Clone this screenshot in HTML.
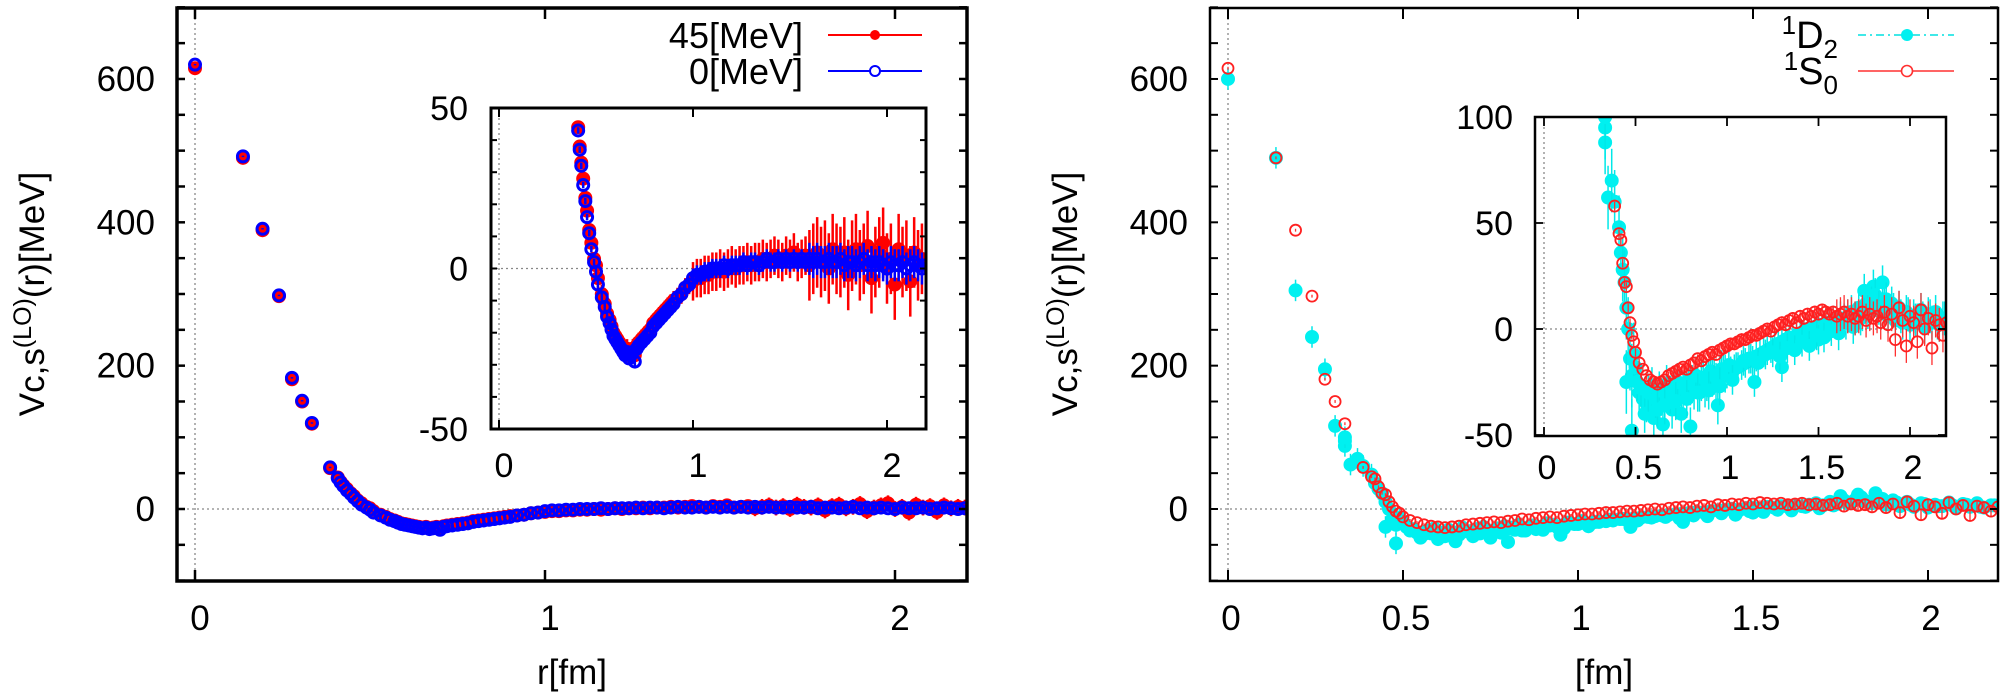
<!DOCTYPE html>
<html><head><meta charset="utf-8"><style>
html,body{margin:0;padding:0;background:#fff;}
svg{display:block;font-family:"Liberation Sans",Arial,sans-serif;}
</style></head><body>
<svg id="fig" width="2008" height="695" viewBox="0 0 2008 695" xmlns="http://www.w3.org/2000/svg">
<defs>
<clipPath id="clipLM"><rect x="177" y="8" width="790" height="573"/></clipPath>
<clipPath id="clipLI"><rect x="491" y="108" width="435" height="321"/></clipPath>
<clipPath id="clipRM"><rect x="1210" y="8" width="788" height="573"/></clipPath>
<clipPath id="clipRI"><rect x="1535" y="117" width="411" height="319"/></clipPath>
</defs>
<g id="root"></g>
</svg>
<script>
// ---------- DATA ----------
const L_r = [0,0.137,0.193,0.24,0.277,0.306,0.334,0.386,0.408,0.416,0.424,0.434,0.445,0.454,0.465,0.476,0.49,0.5,0.51,0.53,0.545,0.557,0.57,0.58,0.59,0.6,0.61,0.62,0.63,0.64,0.65,0.66,0.67,0.68,0.69,0.7,0.71,0.72,0.735,0.75,0.765,0.78,0.795,0.81,0.825,0.84,0.855,0.87,0.885,0.9,0.92,0.94,0.96,0.98,1.0,
1.02,1.04,1.06,1.08,1.1,1.12,1.14,1.16,1.18,1.2,1.22,1.24,1.26,1.28,1.3,1.32,1.34,1.36,1.38,1.4,1.42,1.44,1.46,1.48,1.5,1.52,1.54,1.56,1.58,1.6,1.62,1.64,1.66,1.68,1.7,1.72,1.74,1.76,1.78,1.8,1.82,1.84,1.86,1.88,1.9,1.92,1.94,1.96,1.98,2.0,2.02,2.04,2.06,2.08,2.1,2.12,2.14,2.16,2.18,2.2];
const L_45 = [615,490,389,297,181,150,119,57,
44,38,33,28,22,18,12,8,3,1,
-3,-8,-11,-14,-16,-18,-20,-21,-22,-23,-24,-25,-26,-25,-27,-26,-25,-27,-24,-23,-22,-21,-20,-19,-17,-16,-15,-14,-13,-12,-11,-10,-9,-8,-6,-5,-4,
-3,-3,-2,-2,-1,-1,0,-1,0,1, 0,1,1,2,1,2,2,3,2,3, 4,3,2,4,3,5,2,3,4,1, 3,5,2,4,0,6,3,2,5,-2, 4,6,1,3,7,-3,2,5,8,0, 3,-5,6,2,4,-4,5,1,3,2];
const L_0 = [620,492,391,298,183,151,120,58,
43,37,32,26,21,16,11,6,2,-1,
-5,-9,-12,-15,-17,-19,-21,-22,-23,-24,-25,-26,-27,-26,-28,-27,-26,-29,-25,-24,-23,-22,-21,-20,-18,-17,-16,-15,-14,-13,-12,-11,-9,-8,-6,-5,-3,
-2,-2,-1,-1,0,0,0,1,0,1, 1,1,2,1,2,2,1,2,3,2, 2,3,2,3,2,3,2,3,2,3, 2,3,2,2,3,2,2,3,1,2, 2,1,2,3,1,2,1,2,1,0, 2,1,1,2,0,1,2,1,0,1];
const err_edges = [0.5,1.0,1.6,2.3];
const err_45 = [2,3,6,11];
const err_0 = [1,2,3,5];

const R_r = [0,0.137,0.193,0.24,0.277,0.306,0.334,0.386,0.41,0.42,0.43,0.44,0.45,0.46,0.47,0.48,0.49,0.5,0.52,0.54,0.56,0.58,0.6,0.62,0.64,0.66,0.68,0.7,0.72,0.74,0.76,0.78,0.8,0.82,0.84,0.86,0.88,0.9,0.92,0.94,0.96,0.98,1.0,
1.02,1.04,1.06,1.08,1.1,1.12,1.14,1.16,1.18,1.2,1.22,1.24,1.26,1.28,1.3,1.32,1.34,1.36,1.38,1.4,1.42,1.44,1.46,1.48,1.5,1.52,1.54,1.56,1.58,1.6,1.62,1.64,1.66,1.68,1.7,1.72,1.74,1.76,1.78,1.8,1.82,1.84,1.86,1.88,1.9,1.92,1.94,1.96,1.98,2.0,2.02,2.04,2.06,2.08,2.1,2.12,2.14,2.16,2.18,2.2];
const S0 = [615,490,389,297,181,150,119,58,
45,42,31,22,20,10,3,-3,-6,-11, -16,-19,-22,-24,-25,-26,-25,-24,-22,-21, -20,-19,-18,-19,-17,-16,-14,-15,-13,-12, -11,-12,-10,-9,-8,
-7,-7,-6,-5,-5,-4,-3,-3,-2,-1, 0,-1,1,2,3,2,4,5,3,6, 5,7,6,8,7,9,8,7,8,6, 7,8,6,7,5,6,8,4,7,5, 6,3,8,2,7,-5,10,4,-8,6, 3,-6,9,0,5,-9,4,2,-3,3];
const D2 = [600,490,305,240,195,116,95,60,
48,36,28,22,10,0,-14,-22,-12,-18, -30,-33,-35,-34,-36,-33,-32,-35,-31,-30, -32,-29,-30,-28,-27,-29,-26,-25,-28,-24, -23,-25,-22,-20,-21,
-20,-19,-18,-17,-16,-14,-15,-13,-12,-11, -10,-9,-8,-7,-6,-5,-4,-5,-3,-2, -1,0,-2,1,2,0,3,2,4,3, 5,4,6,8,5,10,7,12,9,15, 11,8,14,6,12,4,10,3,8,2, 6,4,9,1,7,3,8,2,5,4];
const D2x_r = [0.334,0.334,0.35,0.37,0.45,0.48,0.55,0.6,0.65,0.7,0.75,0.8,0.85,0.95,1.15,1.3,1.5,1.75,1.8,1.85,
0.51,0.53,0.57,0.59,0.61,0.63,0.67,0.69,0.71,0.73,0.77,0.79,0.81,0.83,0.87,0.89,0.91,0.93,0.97,0.99,
1.01,1.05,1.09,1.13,1.17,1.21,1.25,1.29,1.33,1.37,1.41,1.45,1.49,1.53,1.57,1.61,1.65,1.69,1.73,1.77,
1.79,1.81,1.83,1.87,1.91,1.95,1.99,2.03,2.07,2.11,2.15,2.19,0.62,0.66,0.72,0.78,0.84,0.9,0.96,1.03];
const D2x_v = [88,100,62,70,-25,-48,-40,-42,-45,-38,-40,-46,-30,-36,-25,-18,-5,18,20,22,
-25,-28,-30,-27,-33,-29,-26,-31,-28,-25,-27,-24,-26,-22,-23,-25,-20,-22,-19,-21,
-17,-18,-15,-14,-16,-12,-11,-13,-9,-10,-6,-8,-3,-4,-1,-2,3,1,5,8,
12,16,10,14,9,6,7,4,5,6,3,5,-38,-36,-34,-33,-30,-29,-27,-24];
const errS0 = [2,2,3,8];
const errD2 = [15,9,7,8];

const ticksMainY = [0,200,400,600];
const ticksLX = [0,1,2];
const ticksRX = [0,0.5,1,1.5,2];
const ticksRXlab = ["0","0.5","1","1.5","2"];
const ticksLIY = [-50,0,50];
const ticksRIY = [-50,0,50,100];

// ---------- HELPERS ----------
const NS = "http://www.w3.org/2000/svg";
const root = document.getElementById('root');
function mk(tag, attrs, parent){ const e=document.createElementNS(NS,tag); for(const k in attrs) e.setAttribute(k,attrs[k]); (parent||root).appendChild(e); return e; }
function txt(s, x, y, size, anchor, parent){ const t=mk('text',{x:x,y:y,'font-size':size,'text-anchor':anchor||'middle',fill:'#000'},parent); t.textContent=s; return t; }
function lin(a,b){ return v=>a+b*v; }
function errFor(x, vals){ for(let i=0;i<err_edges.length;i++){ if(x<err_edges[i]) return vals[i]; } return vals[vals.length-1]; }

function axesBox(g, fx0, fy0, fx1, fy1, lw){
  const r=mk('rect',{x:fx0,y:fy0,width:fx1-fx0,height:fy1-fy0,fill:'none',stroke:'#000','stroke-width':lw},g);
  
  
}
function zeroLines(g, X, Y, fx0, fy0, fx1, fy1){
  mk('line',{x1:fx0,x2:fx1,y1:Y(0),y2:Y(0),stroke:'#888','stroke-width':1.3,'stroke-dasharray':'2,3'},g);
  mk('line',{x1:X(0),x2:X(0),y1:fy0,y2:fy1,stroke:'#888','stroke-width':1.3,'stroke-dasharray':'2,3'},g);
}
function series(g, xs, vs, X, Y, errs, style, r){
  for(let i=0;i<Math.min(xs.length,vs.length);i++){
    const cx=X(xs[i]), cy=Y(vs[i]); const e=errFor(xs[i],errs);
    const eb=mk('line',{x1:cx,x2:cx,y1:Y(vs[i]+e),y2:Y(vs[i]-e),stroke:style.ebar,'stroke-width':style.ew},g);
    
    
    const c=mk('circle',{cx:cx,cy:cy,r:r,fill:style.fill,stroke:style.stroke,'stroke-width':style.sw},g);
    
    
  }
}
const sRed={fill:'#ff0000',stroke:'#ff0000',sw:2,ebar:'#ff0000',ew:2.5,name:'point-45mev'};
const sBlue={fill:'none',stroke:'#0000ff',sw:3,ebar:'#0000ff',ew:2.5,name:'point-0mev'};
const sCyan={fill:'#00f0f0',stroke:'#00f0f0',sw:2,ebar:'#00e8e8',ew:1.5,name:'point-1d2'};
const sS0={fill:'none',stroke:'#ff2020',sw:1.8,ebar:'#ff3030',ew:1.3,name:'point-1s0'};

// ---------- LEFT MAIN ----------
(function(){
  const g=mk('g',{});  
  const X=lin(195,350), Y=lin(509,-0.7167);
  const fx0=177,fx1=967,fy0=8,fy1=581;
  zeroLines(g,X,Y,fx0,fy0,fx1,fy1);
  const pg=mk('g',{'clip-path':'url(#clipLM)'},g);
  series(pg,L_r,L_45,X,Y,err_45,sRed,6);
  series(pg,L_r,L_0,X,Y,err_0,sBlue,5.5);
  for(let v=-100;v<=700;v+=50){ mk('line',{x1:fx0,x2:fx0+8,y1:Y(v),y2:Y(v),stroke:'#000','stroke-width':2.5},g); mk('line',{x1:fx1,x2:fx1-8,y1:Y(v),y2:Y(v),stroke:'#000','stroke-width':2.5},g); }
  ticksMainY.forEach(v=>{ const t=txt(String(v),155,Y(v)+12,35,'end',g);   });
  ticksLX.forEach(v=>{ mk('line',{x1:X(v),x2:X(v),y1:fy1,y2:fy1-11,stroke:'#000','stroke-width':2.5},g); mk('line',{x1:X(v),x2:X(v),y1:fy0,y2:fy0+11,stroke:'#000','stroke-width':2.5},g);
    const t=txt(String(v),X(v)+5,630,35,'middle',g);   });
  axesBox(g,fx0,fy0,fx1,fy1,3.5);
  const xt=txt('r[fm]',572,684,35,'middle',g);  
  const lg=mk('g',{},g);  
  const t1=txt('45[MeV]',803,48,36,'end',lg);  
  mk('line',{x1:828,x2:922,y1:35,y2:35,stroke:'#ff0000','stroke-width':2},lg); mk('circle',{cx:875,cy:35,r:5,fill:'#ff0000'},lg);
  const t2=txt('0[MeV]',803,84,36,'end',lg);  
  mk('line',{x1:828,x2:922,y1:71,y2:71,stroke:'#0000ff','stroke-width':2},lg); mk('circle',{cx:875,cy:71,r:5,fill:'#fff',stroke:'#0000ff','stroke-width':2},lg);
  const ig=mk('g',{},g);  
  const IX=lin(499,194), IY=lin(268.5,-3.21);
  const ix0=491,ix1=926,iy0=108,iy1=429;
  mk('rect',{x:ix0,y:iy0,width:ix1-ix0,height:iy1-iy0,fill:'#fff'},ig);
  zeroLines(ig,IX,IY,ix0,iy0,ix1,iy1);
  const ipg=mk('g',{'clip-path':'url(#clipLI)'},ig);
  series(ipg,L_r,L_45,IX,IY,err_45,sRed,6);
  series(ipg,L_r,L_0,IX,IY,err_0,sBlue,5.5);
  for(let v=-50;v<=50;v+=10){ mk('line',{x1:ix0,x2:ix0+6,y1:IY(v),y2:IY(v),stroke:'#000','stroke-width':2},ig); mk('line',{x1:ix1,x2:ix1-6,y1:IY(v),y2:IY(v),stroke:'#000','stroke-width':2},ig); }
  ticksLIY.forEach(v=>{ const t=txt(String(v),468,IY(v)+12,34,'end',ig);   });
  ticksLX.forEach(v=>{ mk('line',{x1:IX(v),x2:IX(v),y1:iy1,y2:iy1-9,stroke:'#000','stroke-width':2},ig); mk('line',{x1:IX(v),x2:IX(v),y1:iy0,y2:iy0+9,stroke:'#000','stroke-width':2},ig);
    const t=txt(String(v),IX(v)+5,477,34,'middle',ig);   });
  axesBox(ig,ix0,iy0,ix1,iy1,3);
  const yt=mk('text',{transform:'translate(44,294) rotate(-90)','font-size':35,'text-anchor':'middle',fill:'#000'},g);
   
  yt.innerHTML='Vc,s<tspan dy="-13" font-size="25">(LO)</tspan><tspan dy="13">(r)[MeV]</tspan>';
})();

// ---------- RIGHT MAIN ----------
(function(){
  const g=mk('g',{});  
  const X=lin(1228,350), Y=lin(509,-0.7167);
  const fx0=1210,fx1=1998,fy0=8,fy1=581;
  zeroLines(g,X,Y,fx0,fy0,fx1,fy1);
  const pg=mk('g',{'clip-path':'url(#clipRM)'},g);
  series(pg,R_r,D2,X,Y,errD2,sCyan,6);
  series(pg,D2x_r,D2x_v,X,Y,errD2,sCyan,6);
  series(pg,R_r,S0,X,Y,errS0,sS0,5.5);
  for(let v=-100;v<=700;v+=50){ mk('line',{x1:fx0,x2:fx0+8,y1:Y(v),y2:Y(v),stroke:'#000','stroke-width':2},g); mk('line',{x1:fx1,x2:fx1-8,y1:Y(v),y2:Y(v),stroke:'#000','stroke-width':2},g); }
  ticksMainY.forEach(v=>{ const t=txt(String(v),1188,Y(v)+12,35,'end',g);   });
  ticksRX.forEach((v,i)=>{ mk('line',{x1:X(v),x2:X(v),y1:fy1,y2:fy1-11,stroke:'#000','stroke-width':2},g); mk('line',{x1:X(v),x2:X(v),y1:fy0,y2:fy0+11,stroke:'#000','stroke-width':2},g);
    const t=txt(ticksRXlab[i],X(v)+3,630,35,'middle',g);   });
  axesBox(g,fx0,fy0,fx1,fy1,2.5);
  const xt=txt('[fm]',1604,684,35,'middle',g);  
  const lg=mk('g',{},g);  
  const t1=mk('text',{x:1838,y:48,'font-size':38,'text-anchor':'end',fill:'#000'},lg);
   
  t1.innerHTML='<tspan font-size="26" dy="-14">1</tspan><tspan dy="14">D</tspan><tspan font-size="26" dy="10">2</tspan>';
  mk('line',{x1:1858,x2:1954,y1:35,y2:35,stroke:'#00e0e0','stroke-width':1.5,'stroke-dasharray':'8,4,2,4'},lg); mk('circle',{cx:1907,cy:35,r:6,fill:'#00f0f0'},lg);
  const t2=mk('text',{x:1838,y:84,'font-size':38,'text-anchor':'end',fill:'#000'},lg);
   
  t2.innerHTML='<tspan font-size="26" dy="-14">1</tspan><tspan dy="14">S</tspan><tspan font-size="26" dy="10">0</tspan>';
  mk('line',{x1:1858,x2:1954,y1:71,y2:71,stroke:'#ff3030','stroke-width':1.5},lg); mk('circle',{cx:1907,cy:71,r:5.5,fill:'#fff',stroke:'#ff3030','stroke-width':1.6},lg);
  const ig=mk('g',{},g);  
  const IX=lin(1544,183), IY=lin(329,-2.12);
  const ix0=1535,ix1=1946,iy0=117,iy1=436;
  mk('rect',{x:ix0,y:iy0,width:ix1-ix0,height:iy1-iy0,fill:'#fff'},ig);
  zeroLines(ig,IX,IY,ix0,iy0,ix1,iy1);
  const ipg=mk('g',{'clip-path':'url(#clipRI)'},ig);
  series(ipg,R_r,D2,IX,IY,errD2,sCyan,6);
  series(ipg,D2x_r,D2x_v,IX,IY,errD2,sCyan,6);
  series(ipg,R_r,S0,IX,IY,errS0,sS0,5.5);
  ticksRIY.forEach(v=>{ mk('line',{x1:ix0,x2:ix0+8,y1:IY(v),y2:IY(v),stroke:'#000','stroke-width':1.8},ig); mk('line',{x1:ix1,x2:ix1-8,y1:IY(v),y2:IY(v),stroke:'#000','stroke-width':1.8},ig);
    const t=txt(String(v),1513,IY(v)+12,34,'end',ig);   });
  ticksRX.forEach((v,i)=>{ mk('line',{x1:IX(v),x2:IX(v),y1:iy1,y2:iy1-9,stroke:'#000','stroke-width':1.8},ig); mk('line',{x1:IX(v),x2:IX(v),y1:iy0,y2:iy0+9,stroke:'#000','stroke-width':1.8},ig);
    const t=txt(ticksRXlab[i],IX(v)+3,479,34,'middle',ig);   });
  axesBox(ig,ix0,iy0,ix1,iy1,2.5);
  const yt=mk('text',{transform:'translate(1077,294) rotate(-90)','font-size':35,'text-anchor':'middle',fill:'#000'},g);
   
  yt.innerHTML='Vc,s<tspan dy="-13" font-size="25">(LO)</tspan><tspan dy="13">(r)[MeV]</tspan>';
})();
</script>
</body></html>
